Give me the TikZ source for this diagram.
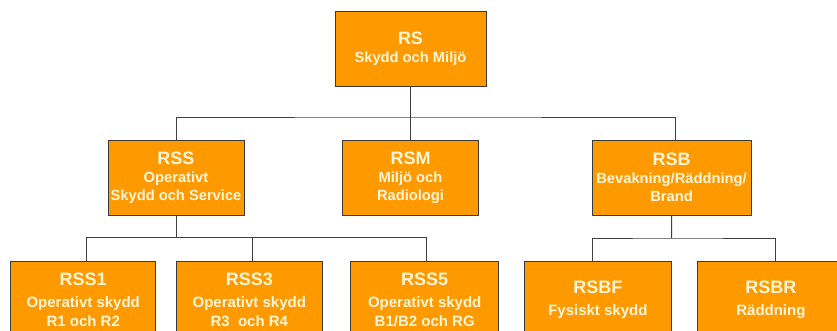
\documentclass[tikz,border=0pt]{standalone}
\usepackage{fontspec}
\setmainfont{Liberation Sans}
\definecolor{unitfill}{HTML}{FF9900}
\definecolor{unitedge}{HTML}{3A3A3A}
\definecolor{unittext}{HTML}{FFF6DA}
\definecolor{wire}{HTML}{404040}
\newcommand\unithead[1]{{\fontsize{18}{18}\selectfont #1}}
\begin{document}
\begin{tikzpicture}[x=1pt,y=-1pt,
  unit/.style={draw=unitedge,line width=0.9pt,fill=unitfill,text=unittext,
    rectangle,align=center,inner sep=0pt,minimum height=75pt,
    font=\fontsize{14.7}{18}\selectfont\bfseries},
  lowunit/.style={unit,minimum height=78pt,
    font=\fontsize{15}{19.5}\selectfont\bfseries},
  wire/.style={draw=wire,line width=1pt}]
\useasboundingbox (0,0) rectangle (837,330);
\clip (0,0) rectangle (837,330);

% top level
\node[unit,minimum width=151pt] (RS) at (410.5,48.5) {\unithead{RS}\\Skydd och Miljö};

% second level
\node[unit,minimum width=136pt] (RSS) at (176,177.5) {\unithead{RSS}\\Operativt\\Skydd och Service};
\node[unit,minimum width=136.4pt] (RSM) at (410.5,177.5) {\unithead{RSM}\\Miljö och\\Radiologi};
\node[unit,minimum width=159pt] (RSB) at (671.5,177.5) {\unithead{RSB}\\Bevakning/Räddning/\\Brand};

% third level
\node[lowunit,minimum width=145pt] (RSS1) at (83.2,300) {\unithead{RSS1}\\[2pt]Operativt skydd\\R1 och R2};
\node[lowunit,minimum width=145.3pt] (RSS3) at (249.3,300) {\unithead{RSS3}\\[2pt]Operativt skydd\\R3\ \ och R4};
\node[lowunit,minimum width=148pt] (RSS5) at (424.7,300) {\unithead{RSS5}\\[2pt]Operativt skydd\\B1/B2 och RG};
\node[lowunit,minimum width=147.7pt] (RSBF) at (597.9,300) {\unithead{RSBF}\\[2pt]Fysiskt skydd};
\node[lowunit,minimum width=146.3pt] (RSBR) at (770.9,300) {\unithead{RSBR}\\[2pt]Räddning};

% bus junctions
\coordinate (busTop) at (410.5,117);
\coordinate (busRSS) at (176,237.5);
\coordinate (busRSB) at (671.7,238);

% connectors
\draw[wire] (RS.south) -- (RSM.north);
\draw[wire] (RSS.north) |- (busTop) -| ([xshift=4]RSB.north);
\draw[wire] (RSS.south) -- (busRSS);
\draw[wire] ([xshift=3]RSS1.north) |- (busRSS) -| ([xshift=1.3]RSS5.north);
\draw[wire] ([xshift=2.7]RSS3.north) -- ([xshift=2.7]RSS3.north |- busRSS);
\draw[wire] (RSB.south) -- (busRSB);
\draw[wire] ([xshift=-5.9]RSBF.north) |- (busRSB) -| ([xshift=4.1]RSBR.north);
\end{tikzpicture}
\end{document}
